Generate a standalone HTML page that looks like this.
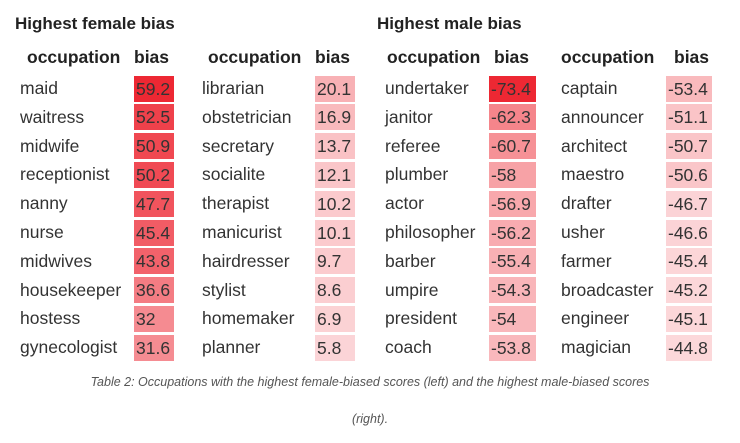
<!DOCTYPE html>
<html><head><meta charset="utf-8"><style>
body{margin:0;width:740px;height:443px;background:#fff;font-family:"Liberation Sans",sans-serif;color:#222;position:relative;overflow:hidden}
.t{position:absolute;font-weight:bold;font-size:17px;top:14px}
.h{position:absolute;font-weight:bold;font-size:17.5px;top:47px}
.c{position:absolute;font-size:17.5px;line-height:27px;height:27px;white-space:nowrap;color:#333}
.b{position:absolute;font-size:17.5px;line-height:27px;height:27px;padding-left:2px;box-sizing:border-box;color:#333;overflow:hidden}
.cap{position:absolute;left:0;width:740px;text-align:center;font-style:italic;font-size:12.5px;color:#555}
</style></head><body>
<div class="t" style="left:15px">Highest female bias</div>
<div class="t" style="left:377px">Highest male bias</div>
<div id="root"></div>
<div class="cap" style="top:375px">Table 2: Occupations with the highest female-biased scores (left) and the highest male-biased scores</div>
<div class="cap" style="top:412px">(right).</div>
<script>
const occF1=["maid","waitress","midwife","receptionist","nanny","nurse","midwives","housekeeper","hostess","gynecologist"];
const biasF1=[59.2,52.5,50.9,50.2,47.7,45.4,43.8,36.6,32,31.6];
const occF2=["librarian","obstetrician","secretary","socialite","therapist","manicurist","hairdresser","stylist","homemaker","planner"];
const biasF2=[20.1,16.9,13.7,12.1,10.2,10.1,9.7,8.6,6.9,5.8];
const occM1=["undertaker","janitor","referee","plumber","actor","philosopher","barber","umpire","president","coach"];
const biasM1=[-73.4,-62.3,-60.7,-58,-56.9,-56.2,-55.4,-54.3,-54,-53.8];
const occM2=["captain","announcer","architect","maestro","drafter","usher","farmer","broadcaster","engineer","magician"];
const biasM2=[-53.4,-51.1,-50.7,-50.6,-46.7,-46.6,-45.4,-45.2,-45.1,-44.8];
const root=document.getElementById('root');
function tbl(occ,vals,ox,hx,bx,bw,bhx,lo,hi,pw,key){
  const h1=document.createElement('div');h1.className='h';h1.style.left=hx+'px';h1.textContent='occupation';
  
  root.appendChild(h1);
  const h2=document.createElement('div');h2.className='h';h2.style.left=bhx+'px';h2.textContent='bias';
  
  root.appendChild(h2);
  occ.forEach((o,i)=>{
    const y=75+i*28.8;
    const c=document.createElement('div');c.className='c';c.style.left=ox+'px';c.style.top=y+'px';c.textContent=o;
    
    root.appendChild(c);
    const v=vals[i],a=Math.max(0,Math.min(1,(Math.abs(v)-lo)/(hi-lo)));
    const alpha=0.15+0.8*Math.pow(a,pw);
    const b=document.createElement('div');b.className='b';b.style.left=bx+'px';b.style.top=(y+0.5)+'px';b.style.width=bw+'px';b.style.height='26px';
    b.style.background='rgba(236,28,40,'+alpha.toFixed(3)+')';b.textContent=String(v);
    
    root.appendChild(b);
  });
}
tbl(occF1,biasF1,20,27,134,40,134,0,59.2,1.3,'female-left');
tbl(occF2,biasF2,202,208,315,40,315,0,59.2,1.3,'female-right');
tbl(occM1,biasM1,385,387,489,47,494,40,73.4,1.8,'male-left');
tbl(occM2,biasM2,561,561,666,46,674,40,73.4,1.8,'male-right');
</script>
</body></html>
